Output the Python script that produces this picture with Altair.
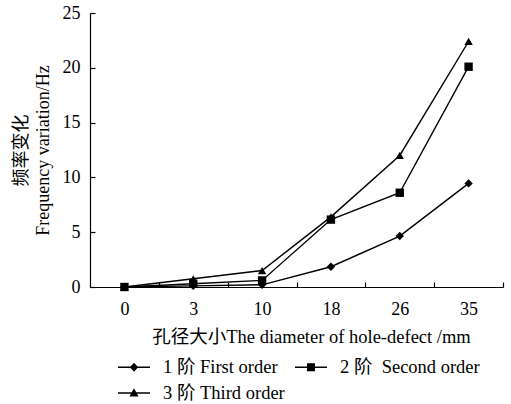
import altair as alt
import pandas as pd

diameters = ["0", "3", "10", "18", "26", "35"]
series_names = ["1 阶 First order", "2 阶\u00a0 Second order", "3 阶 Third order"]
first_order = [0, 0.1, 0.2, 1.85, 4.65, 9.45]
second_order = [0, 0.3, 0.6, 6.15, 8.6, 20.1]
third_order = [0, 0.75, 1.5, 6.4, 12.0, 22.4]

rows = []
for name, vals in zip(series_names, [first_order, second_order, third_order]):
    for d, v in zip(diameters, vals):
        rows.append({"d": d, "v": v, "s": name})
df = pd.DataFrame(rows)

FONT = "Times New Roman, Liberation Serif, Noto Sans CJK SC"
half_band = 413 / 6 / 2

x_enc = alt.X(
    "d:O", sort=diameters,
    scale=alt.Scale(padding=0.5),
    axis=alt.Axis(
        title="孔径大小The diameter of hole-defect /mm",
        labelAngle=0, tickSize={"expr": "-5"}, tickOffset=half_band, labelOffset=-half_band,
        labelPadding=18, titleX=221, titleY=49, titleAlign="center", titleBaseline="middle",
        titleFontSize=18.5,
    ),
)
y_enc = alt.Y(
    "v:Q",
    scale=alt.Scale(domain=[0, 25]),
    axis=alt.Axis(
        title=["频率变化", "Frequency variation/Hz"], values=[0, 5, 10, 15, 20, 25],
        tickSize={"expr": "-5"}, labelPadding=15, grid=False,
        titleX=-69, titleY=137, titleAlign="center", titleBaseline="middle", titleLineHeight=22,
    ),
)

base = alt.Chart(df)
lines = base.mark_line(color="black", strokeWidth=1.4).encode(x=x_enc, y=y_enc, detail="s:N")
points = base.mark_point(filled=True, color="black", size=70, opacity=1).encode(
    x=x_enc, y=y_enc,
    shape=alt.Shape("s:N", scale=alt.Scale(domain=series_names, range=["diamond", "square", "triangle-up"]), legend=None),
)

seg = "M-1,-0.04H1V0.04H-1Z"
leg_paths = [
    seg + "M0,-0.28L0.26,0L0,0.28L-0.26,0Z",
    seg + "M-0.25,-0.25H0.25V0.25H-0.25Z",
    seg + "M0,-0.3L0.29,0.22H-0.29Z",
]
legend_layer = base.transform_filter("datum.v < -100").mark_point(
    filled=True, color="black", opacity=1
).encode(
    x=x_enc, y=y_enc,
    shape=alt.Shape(
        "s:N",
        scale=alt.Scale(domain=series_names, range=leg_paths),
        legend=alt.Legend(
            title=None, orient="none", legendX=28, legendY=338, columns=2, direction="horizontal",
            symbolSize=1024, symbolFillColor="black", symbolStrokeWidth=0,
            labelOffset=13, columnPadding=10, rowPadding=-3, padding=0,
            labelFont=FONT, labelFontSize=18.5, labelColor="black", symbolOpacity=1, labelLimit=300,
        ),
    ),
)

chart = (
    alt.layer(lines, points, legend_layer)
    .resolve_scale(shape="independent")
    .properties(
        width=413, height=274, autosize="none", background="white",
        padding={"left": 90, "top": 13, "right": 8, "bottom": 117},
    )
    .configure_view(stroke=None)
    .configure_axis(
        labelFont=FONT, titleFont=FONT, labelFontSize=18, titleFontSize=18,
        labelColor="black", titleColor="black", domainColor="black", tickColor="black",
        titleFontWeight="normal", domainWidth=1.2, tickWidth=1.2,
    )
)

chart.save("out.html", embed_options={"renderer": "svg", "actions": False})
